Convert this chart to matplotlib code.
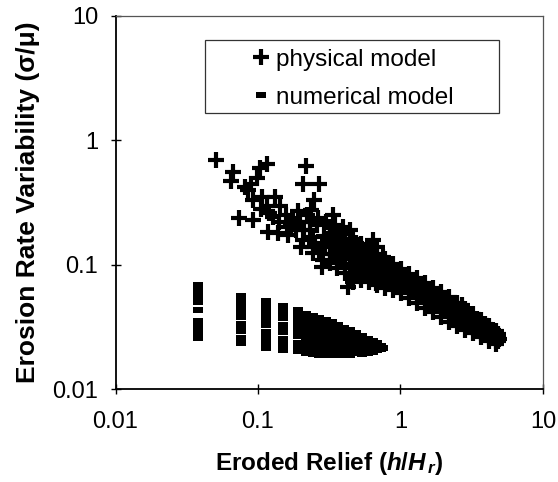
import numpy as np
import matplotlib.pyplot as plt
from matplotlib.patches import Rectangle
from matplotlib.ticker import FixedLocator, FixedFormatter, NullLocator

plt.rcParams['font.family'] = ['Liberation Sans', 'DejaVu Sans']
plt.rcParams['mathtext.fontset'] = 'custom'
plt.rcParams['mathtext.rm'] = 'Liberation Sans:bold'
plt.rcParams['mathtext.it'] = 'Liberation Sans:italic:bold'
plt.rcParams['mathtext.bf'] = 'Liberation Sans:bold'

# physical model, scattered runs at low relief
phys_x = [
    0.051, 0.067, 0.065, 0.081, 0.085, 0.103, 0.115, 0.098, 0.090, 0.092,
    0.106, 0.131, 0.115, 0.074, 0.092, 0.118, 0.142, 0.158, 0.162, 0.127,
    0.218, 0.207, 0.270, 0.249, 0.237, 0.196, 0.230, 0.186, 0.201, 0.243,
    0.285, 0.335, 0.394, 0.318, 0.439, 0.489, 0.373, 0.639, 0.543, 0.463,
    0.285, 0.243, 0.675, 0.750, 0.675, 0.280, 0.243, 0.430, 0.680, 2.70,
    0.138, 0.207, 0.460, 0.605,
    0.170, 0.210, 0.260, 0.290, 0.250, 0.220, 0.300, 0.330, 0.360, 0.270,
    0.190, 0.160, 0.120, 0.140, 0.105, 0.175, 0.310, 0.350, 0.230, 0.265,
]
phys_y = [
    0.70, 0.56, 0.47, 0.42, 0.40, 0.60, 0.65, 0.50, 0.45, 0.33,
    0.35, 0.35, 0.30, 0.24, 0.23, 0.185, 0.30, 0.25, 0.174, 0.244,
    0.62, 0.45, 0.45, 0.333, 0.277, 0.222, 0.222, 0.191, 0.14, 0.169,
    0.110, 0.252, 0.203, 0.179, 0.191, 0.149, 0.132, 0.159, 0.124, 0.073,
    0.140, 0.140, 0.097, 0.116, 0.072, 0.097, 0.124, 0.067, 0.14, 0.048,
    0.179, 0.159, 0.080, 0.132,
    0.210, 0.190, 0.210, 0.170, 0.150, 0.250, 0.220, 0.150, 0.180, 0.130,
    0.270, 0.200, 0.260, 0.220, 0.280, 0.240, 0.160, 0.210, 0.190, 0.240,
]

# physical model, dense band of runs (read as rows across the band)
band_x = [0.318, 0.361, 0.411, 0.468, 0.532, 0.605, 0.689, 0.784, 0.892, 1.015,
          1.154, 1.313, 1.494, 1.700, 1.934, 2.20, 2.50, 2.85, 3.24, 3.69, 4.20, 4.70]
band_x_shift = [0.339, 0.385, 0.439, 0.499, 0.568, 0.646, 0.735, 0.837, 0.952, 1.083,
                1.231, 1.401, 1.594, 1.814, 2.064, 2.35, 2.67, 3.04, 3.46, 3.94, 4.48, 4.85]
band_top = [0.201, 0.188, 0.177, 0.163, 0.148, 0.135, 0.123, 0.112, 0.101, 0.0923,
            0.0848, 0.0779, 0.0714, 0.0656, 0.0601, 0.0552, 0.0496, 0.0446, 0.0401, 0.0361, 0.0324, 0.0295]
band_upper = [0.1707, 0.1581, 0.1476, 0.1363, 0.1253, 0.1154, 0.1064, 0.0979, 0.0898, 0.0826,
              0.0758, 0.0696, 0.0638, 0.0585, 0.0536, 0.0492, 0.0446, 0.0405, 0.0368, 0.0334, 0.0303, 0.0278]
band_mid = [0.145, 0.133, 0.123, 0.114, 0.106, 0.0987, 0.092, 0.0856, 0.0798, 0.0739,
            0.0678, 0.0622, 0.0570, 0.0522, 0.0478, 0.0438, 0.0401, 0.0367, 0.0337, 0.0309, 0.0283, 0.0262]
band_lower = [0.1228, 0.1120, 0.1026, 0.0952, 0.0897, 0.0845, 0.0797, 0.0750, 0.0707, 0.0661,
              0.0606, 0.0555, 0.0509, 0.0465, 0.0426, 0.0390, 0.0361, 0.0333, 0.0309, 0.0286, 0.0264, 0.0247]
band_bottom = [0.104, 0.0943, 0.0855, 0.0795, 0.0759, 0.0723, 0.0690, 0.0658, 0.0627, 0.0592,
               0.0542, 0.0496, 0.0454, 0.0415, 0.0380, 0.0348, 0.0325, 0.0303, 0.0284, 0.0265, 0.0247, 0.0233]
band_tip = (4.93, 0.0254)

# numerical model: one column of runs per eroded relief value
num_cols_x = [0.038, 0.076, 0.113, 0.151, 0.19,
              0.219, 0.243, 0.270, 0.30, 0.33, 0.365, 0.40, 0.44, 0.485,
              0.535, 0.59, 0.645, 0.69, 0.735, 0.76]
num_cols_y = [
    [0.0696, 0.0640, 0.0589, 0.0542, 0.0501, 0.0434, 0.0353, 0.0326, 0.0300, 0.0276, 0.0259],
    [0.0561, 0.0520, 0.0482, 0.0447, 0.0414, 0.0385, 0.0338, 0.0314, 0.0297, 0.0261, 0.0242, 0.0235],
    [0.0512, 0.0472, 0.0434, 0.0399, 0.0367, 0.0331, 0.0290, 0.0268, 0.0247, 0.0227, 0.0215],
    [0.0466, 0.0433, 0.0401, 0.0373, 0.0328, 0.0305, 0.0289, 0.0254, 0.0233, 0.0219, 0.0207],
    [0.0438, 0.0403, 0.0371, 0.0341, 0.0314, 0.0291, 0.0269, 0.0236, 0.0220, 0.0205],
    [0.0403, 0.0374, 0.0348, 0.0323, 0.0300, 0.0278, 0.0259, 0.0240, 0.0223, 0.0207, 0.0197],
    [0.0388, 0.0361, 0.0335, 0.0311, 0.0289, 0.0268, 0.0249, 0.0231, 0.0215, 0.0199, 0.0192],
    [0.0374, 0.0348, 0.0323, 0.0300, 0.0278, 0.0259, 0.0240, 0.0223, 0.0207, 0.0190],
    [0.0364, 0.0338, 0.0314, 0.0292, 0.0271, 0.0251, 0.0233, 0.0217, 0.0201, 0.0190],
    [0.0348, 0.0323, 0.0300, 0.0278, 0.0259, 0.0240, 0.0223, 0.0207, 0.0190],
    [0.0332, 0.0308, 0.0286, 0.0266, 0.0247, 0.0229, 0.0213, 0.0199, 0.0190],
    [0.0314, 0.0292, 0.0271, 0.0251, 0.0233, 0.0217, 0.0201, 0.0190],
    [0.0300, 0.0278, 0.0259, 0.0240, 0.0223, 0.0207, 0.0190],
    [0.0284, 0.0264, 0.0245, 0.0227, 0.0211, 0.0196],
    [0.0270, 0.0250, 0.0232, 0.0216, 0.0200, 0.0193],
    [0.0256, 0.0238, 0.0221, 0.0205, 0.0195],
    [0.0245, 0.0227, 0.0211, 0.0200],
    [0.0234, 0.0218, 0.0207],
    [0.0222, 0.0210],
    [0.0214],
]

decades = [0.01, 0.1, 1, 10]
decade_labels = ['0.01', '0.1', '1', '10']

# put the band rows together with the scattered runs
band_rows = [(band_x, band_top), (band_x, band_upper), (band_x, band_mid),
             (band_x, band_lower), (band_x, band_bottom),
             (band_x_shift, band_upper), (band_x_shift, band_mid),
             (band_x_shift, band_lower)]
all_phys_x = list(phys_x)
all_phys_y = list(phys_y)
for bx, by in band_rows:
    all_phys_x += bx
    all_phys_y += by
all_phys_x.append(band_tip[0])
all_phys_y.append(band_tip[1])

# flatten the numerical columns
num_x = [x for x, col in zip(num_cols_x, num_cols_y) for _ in col]
num_y = [y for col in num_cols_y for y in col]

# excel-style dash marker: a filled flat rectangle
dash = [(-1, -0.52), (1, -0.52), (1, 0.52), (-1, 0.52), (-1, -0.52)]

fig = plt.figure(figsize=(5.58, 4.82), dpi=100)
ax = fig.add_axes([0.207, 0.192, 0.766, 0.775])

ax.plot(all_phys_x, all_phys_y, linestyle='none', marker='+', markersize=11.5,
        markeredgewidth=3.0, color='black', label='physical model')
ax.plot(num_x, num_y, linestyle='none', marker=dash, markersize=7.7,
        markeredgewidth=0, color='black', label='numerical model')

ax.set_xscale('log')
ax.set_yscale('log')
ax.set_xlim(0.01, 10)
ax.set_ylim(0.01, 10)

for axis in (ax.xaxis, ax.yaxis):
    axis.set_major_locator(FixedLocator(decades))
    axis.set_major_formatter(FixedFormatter(decade_labels))
    axis.set_minor_locator(NullLocator())

ax.tick_params(direction='inout', length=7, width=1, labelsize=17)
ax.tick_params(axis='x', pad=12)
ax.tick_params(axis='y', pad=9)

for side in ('left', 'bottom'):
    ax.spines[side].set_linewidth(1.3)
    ax.spines[side].set_color('black')
for side in ('top', 'right'):
    ax.spines[side].set_linewidth(0.9)
    ax.spines[side].set_color('#555555')

ax.set_xlabel(r'Eroded Relief ($h/H_{\,r}$)', fontsize=17.5, fontweight='bold',
              labelpad=12)
ax.set_ylabel('Erosion Rate Variability (σ/μ)', fontsize=19, fontweight='bold',
              labelpad=9)

# legend: frameless entries inside a plain box
ax.add_patch(Rectangle((0.209, 0.740), 0.688, 0.195, transform=ax.transAxes,
                       facecolor='white', edgecolor='#333333', linewidth=0.9,
                       zorder=4))
leg = ax.legend(loc='center', bbox_to_anchor=(0.556, 0.832), frameon=False,
                fontsize=17.5, handlelength=0.7, handletextpad=0.25,
                labelspacing=0.65, borderpad=0, numpoints=1)
leg.set_zorder(5)

fig.savefig('out.png', dpi=100)
